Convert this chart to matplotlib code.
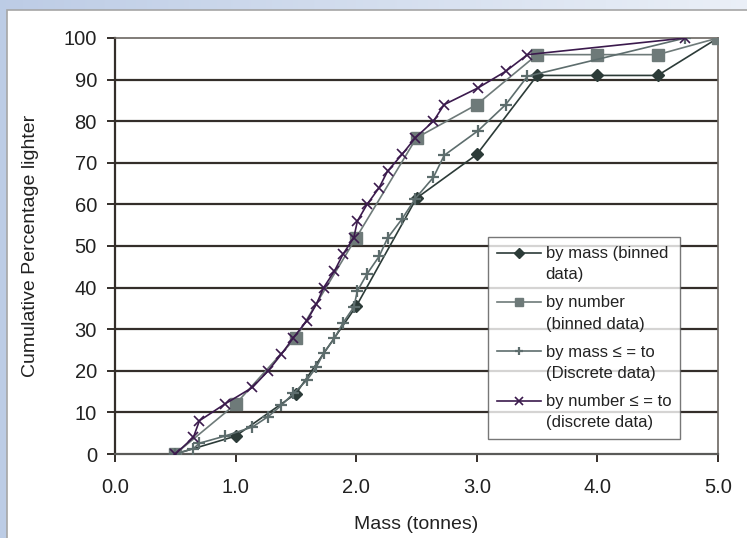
import numpy as np
import matplotlib
matplotlib.use("Agg")
import matplotlib.pyplot as plt
from matplotlib.patches import Rectangle
from matplotlib.legend_handler import HandlerLine2D

plt.rcParams['font.family'] = ['Liberation Sans', 'DejaVu Sans']

# ---- data ----
mass_bins = [0.5, 1.0, 1.5, 2.0, 2.5, 3.0, 3.5, 4.0, 4.5, 5.0]
by_mass_binned = [0, 4.3, 14.5, 35.5, 61.5, 72, 91, 91, 91, 100]
by_number_binned = [0, 12, 28, 52, 76, 84, 96, 96, 96, 100]

discrete_mass = [0.5, 0.65, 0.70, 0.91, 1.14, 1.27, 1.38, 1.48, 1.59, 1.67, 1.73,
                 1.82, 1.89, 1.98, 2.01, 2.09, 2.19, 2.26, 2.38, 2.49, 2.64,
                 2.73, 3.01, 3.24, 3.42, 4.73]
by_mass_discrete = [0, 1.3, 2.6, 4.3, 6.5, 9.0, 11.7, 14.6, 17.7, 20.9, 24.3,
                    27.8, 31.5, 35.3, 39.2, 43.3, 47.5, 51.9, 56.5, 61.4, 66.5,
                    71.8, 77.7, 84.0, 90.8, 100]
by_number_discrete = [0, 4, 8, 12, 16, 20, 24, 28, 32, 36, 40, 44, 48, 52, 56,
                      60, 64, 68, 72, 76, 80, 84, 88, 92, 96, 100]

labels = ["by mass (binned\ndata)", "by number\n(binned data)",
          "by mass \u2264 = to\n(Discrete data)", "by number \u2264 = to\n(discrete data)"]
xticks = [0.0, 1.0, 2.0, 3.0, 4.0, 5.0]
yticks = list(range(0, 101, 10))


class TopLineHandler(HandlerLine2D):
    """Place the legend handle level with the first text line."""
    def __init__(self, shift, **kw):
        super().__init__(**kw)
        self.shift = shift

    def create_artists(self, legend, orig_handle, xdescent, ydescent, width,
                       height, fontsize, trans):
        arts = super().create_artists(legend, orig_handle, xdescent, ydescent,
                                      width, height, fontsize, trans)
        for a in arts:
            a.set_ydata(np.asarray(a.get_ydata()) + self.shift)
        return arts


W, H = 747, 538
fig = plt.figure(figsize=(W / 100, H / 100), dpi=100)

# background gradient
bg = fig.add_axes([0, 0, 1, 1], zorder=-10)
bg.set_axis_off()
gx = np.linspace(0, 1, 256)
c0 = np.array([0.74, 0.80, 0.90])
c1 = np.array([0.92, 0.94, 0.97])
grad = c0[None, :] * (1 - gx[:, None]) + c1[None, :] * gx[:, None]
img = np.tile(grad[None, :, :], (8, 1, 1))
bg.imshow(img, aspect='auto', extent=[0, 1, 0, 1])
bg.set_xlim(0, 1)
bg.set_ylim(0, 1)
bg.add_patch(Rectangle((7 / W, -0.01), 1.0, 1 - 10 / H + 0.01, transform=bg.transAxes,
                       facecolor='white', edgecolor='#a6a6a6', linewidth=1.2))

ax = fig.add_axes([115 / W, (H - 454) / H, (718 - 115) / W, (454 - 38) / H])
ax.set_facecolor('none')

c_mass = '#2c3b38'
c_num = '#6e7a79'
c_mdis = '#5d6d6d'
c_ndis = '#3b1a4d'

l1, = ax.plot(mass_bins, by_mass_binned, color=c_mass, lw=1.2, marker='D', ms=6.5,
              mfc=c_mass, mec=c_mass, label=labels[0], zorder=3)
l2, = ax.plot(mass_bins, by_number_binned, color=c_num, lw=1.2, marker='s', ms=8,
              mfc=c_num, mec=c_num, label=labels[1], zorder=4)
l3, = ax.plot(discrete_mass, by_mass_discrete, color=c_mdis, lw=1.2, marker='+', ms=8,
              mew=1.6, label=labels[2], zorder=5)
l4, = ax.plot(discrete_mass, by_number_discrete, color=c_ndis, lw=1.2, marker='x', ms=7,
              mew=1.2, label=labels[3], zorder=6)

ax.set_xlim(0, 5)
ax.set_ylim(0, 100)
ax.set_xticks(xticks)
ax.set_xticklabels([f"{v:.1f}" for v in xticks])
ax.set_yticks(yticks)
for y in yticks[1:-1]:
    ax.axhline(y, color='#342e2a', lw=1.6, zorder=1)

ax.spines['top'].set_color('#6b6661')
ax.spines['right'].set_color('#6b6661')
ax.spines['top'].set_linewidth(1.2)
ax.spines['right'].set_linewidth(1.2)
ax.spines['left'].set_color('#342e2a')
ax.spines['bottom'].set_color('#5a5a58')
ax.spines['left'].set_linewidth(1.6)
ax.spines['bottom'].set_linewidth(1.6)
ax.tick_params(axis='both', direction='out', length=6, width=1.4, color='#342e2a',
               labelsize=14.5, labelcolor='#222222', pad=7)
ax.tick_params(axis='x', pad=11)

ax.set_xlabel("Mass (tonnes)", fontsize=14, color='#222222', labelpad=14)
ax.set_ylabel("Cumulative Percentage lighter", fontsize=14, color='#222222', labelpad=18)

hm = {l: TopLineHandler(8.5) for l in (l1, l2, l3, l4)}
leg = ax.legend(handles=[l1, l2, l3, l4],
                loc='upper left', bbox_to_anchor=((488 - 115) / 603, (454 - 237) / 416),
                borderaxespad=0, fontsize=12, frameon=True, fancybox=False,
                edgecolor='#555555', handlelength=2.6, handletextpad=0.3,
                labelspacing=0.8, borderpad=0.55, markerscale=0.75, handler_map=hm)
leg.get_frame().set_linewidth(1.0)
for t in leg.get_texts():
    t.set_color('#222222')
    t.set_linespacing(1.5)

fig.savefig("out.png", dpi=100)
